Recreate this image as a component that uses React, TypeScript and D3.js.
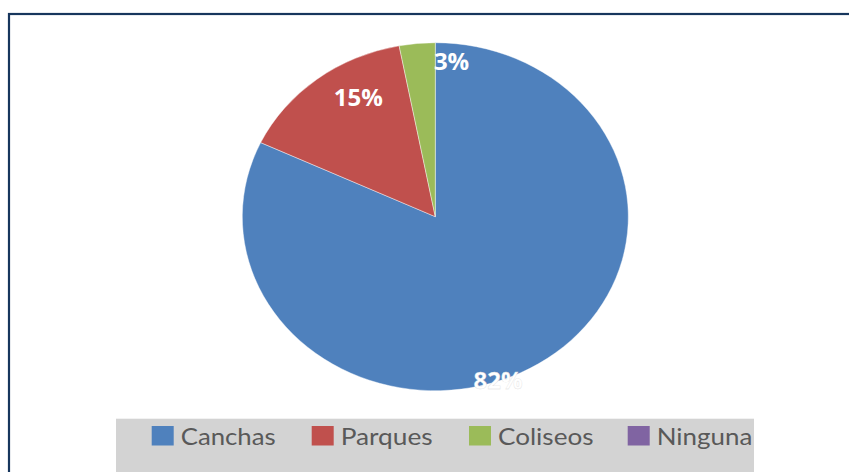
import React from "react";
import * as d3 from "d3";

const categories = ["Canchas", "Parques", "Coliseos", "Ninguna"];
const values = [82, 15, 3, 0];
const labels = ["82%", "15%", "3%", ""];
const colors = ["#4F81BD", "#C0504D", "#9BBB59", "#8064A2"];

// layout (not data)
const W = 849;
const H = 472;
const cx = 435.3;
const cy = 216.7;
const ry = 174;
const sx = 193 / 174;
// label placement in polar form (degrees clockwise from top, radius fraction)
const labelPolar: [number, number][] = [
  [160.9, 0.994],
  [-30.1, 0.795],
  [5.4, 0.895],
  [0, 0],
];
const legendX = [151.7, 311.7, 469, 627.7];
const legendTextW = [95, 92, 95.5, 95.6];

export default function App() {
  const pie = d3
    .pie<number>()
    .sort(null)
    .value((d) => d)
    .startAngle(0)
    .endAngle(2 * Math.PI);
  const arcs = pie(values);
  const arc = d3.arc<d3.PieArcDatum<number>>().innerRadius(0).outerRadius(ry);

  return (
    <svg
      width={W}
      height={H}
      style={{ position: "absolute", left: 0, top: 0, display: "block" }}
    >
      <rect x={0} y={0} width={W} height={H} fill="#ffffff" />
      <rect
        x={9}
        y={14}
        width={900}
        height={520}
        fill="#ffffff"
        stroke="#17365D"
        strokeWidth={2.2}
      />
      <g transform={`translate(${cx},${cy}) scale(${sx},1)`}>
        {arcs.map((a, i) =>
          a.endAngle - a.startAngle > 0 ? (
            <path
              key={i}
              d={arc(a) || ""}
              fill={colors[i]}
              stroke="#ffffff"
              strokeWidth={0.4}
            />
          ) : null
        )}
      </g>
      {labels.map((t, i) => {
        if (!t) return null;
        const [deg, r] = labelPolar[i];
        const ang = (deg * Math.PI) / 180;
        const x = cx + Math.sin(ang) * r * ry * sx;
        const y = cy - Math.cos(ang) * r * ry;
        return (
          <text
            key={i}
            x={x}
            y={y}
            dy="0.36em"
            textAnchor="middle"
            fontFamily="'Open Sans', 'DejaVu Sans', sans-serif"
            fontWeight={700}
            fontSize={24}
            fill="#ffffff"
            stroke={i === 0 ? "#d8d8d8" : "none"}
            strokeWidth={i === 0 ? 0.3 : 0}
          >
            {t}
          </text>
        );
      })}
      <rect x={116} y={418.7} width={638} height={80} fill="#D3D3D3" />
      {categories.map((c, i) => (
        <g key={c}>
          <rect
            x={legendX[i]}
            y={426}
            width={22}
            height={19.5}
            fill={colors[i]}
          />
          <text
            x={legendX[i] + 29}
            y={445.3}
            fontFamily="Lato, 'Open Sans', sans-serif"
            fontSize={24}
            fill="#595959"
            textLength={legendTextW[i]}
            lengthAdjust="spacingAndGlyphs"
          >
            {c}
          </text>
        </g>
      ))}
    </svg>
  );
}
